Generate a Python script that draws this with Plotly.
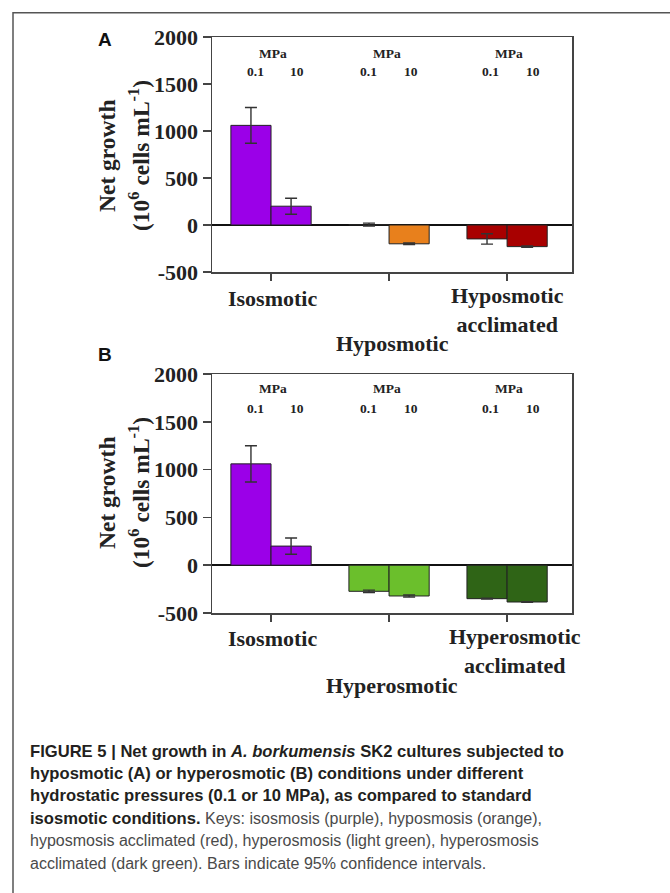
import plotly.graph_objects as go

W, H = 670, 893

# ---- data ----
pressures = ["0.1", "10"]
cats_a = ["Isosmotic", "Hyposmotic", "Hyposmotic acclimated"]
cats_b = ["Isosmotic", "Hyperosmotic", "Hyperosmotic acclimated"]

a_01 = [1060, 5, -148]
a_01_err = [190, 15, 55]
a_10 = [200, -200, -230]
a_10_err = [85, 8, 8]
colors_a = ["#9b00e8", "#e8801c", "#a80000"]

b_01 = [1060, -273, -350]
b_01_err = [190, 12, 5]
b_10 = [200, -322, -385]
b_10_err = [85, 10, 4]
colors_b = ["#9b00e8", "#6bbf2c", "#2f6416"]

yticks = [-500, 0, 500, 1000, 1500, 2000]

# the photographed page shows the figure slightly squeezed vertically;
# target pixel rows are mapped back through that squeeze
SQ, OFF = 0.972, 11.0


def px(p):
    return p / W


def py(p):
    return 1 - ((p - OFF) / SQ) / H


SERIF = "Liberation Serif"
SANS = "Liberation Sans"
AX = "#444444"

fig = go.Figure()


def add_panel(xa, ya, v01, e01, v10, e10, cols):
    for vals, errs, name, in [(v01, e01, "0.1 MPa"), (v10, e10, "10 MPa")]:
        fig.add_trace(go.Bar(
            x=[0, 1, 2], y=vals, name=name, xaxis=xa, yaxis=ya,
            marker=dict(color=cols, line=dict(color="#222222", width=1)),
            error_y=dict(type="data", array=errs, visible=True,
                         color="#333333", thickness=1.4, width=6),
            showlegend=False,
        ))


add_panel("x", "y", a_01, a_01_err, a_10, a_10_err, colors_a)
add_panel("x2", "y2", b_01, b_01_err, b_10, b_10_err, colors_b)

xdom = [px(212), px(572)]
common_x = dict(range=[-0.5, 2.55], domain=xdom, showline=True, linecolor=AX,
                linewidth=1.5, mirror=True, ticks="outside", ticklen=7,
                tickcolor=AX, tickwidth=1.5, tickvals=[0, 1, 2],
                showticklabels=False, showgrid=False, zeroline=False,
                fixedrange=True)
common_y = dict(range=[-500, 2000], showline=True, linecolor=AX,
                linewidth=1.5, mirror=True, ticks="outside", ticklen=8,
                tickcolor=AX, tickwidth=1.5, tickvals=yticks,
                ticktext=[str(t) for t in yticks],
                tickfont=dict(family=SERIF, size=22, color="#222222",
                              weight="bold"),
                showgrid=False, zeroline=True, zerolinecolor="#111111",
                zerolinewidth=1.5, fixedrange=True)

fig.update_layout(
    width=W, height=H,
    margin=dict(l=0, r=0, t=0, b=0),
    paper_bgcolor="white", plot_bgcolor="white",
    barmode="group", bargap=0.32, bargroupgap=0,
    xaxis=dict(common_x, anchor="y"),
    yaxis=dict(common_y, domain=[py(271), py(36)], anchor="x"),
    xaxis2=dict(common_x, anchor="y2"),
    yaxis2=dict(common_y, domain=[py(612), py(373)], anchor="x2"),
)

ann = []
lab_font = dict(family=SERIF, size=22, color="#222222", weight="bold")
ytitle_font = dict(family=SERIF, size=23.5, color="#222222", weight="bold")
small_font = dict(family=SERIF, size=13.5, color="#222222", weight="bold")


def A(**kw):
    d = dict(showarrow=False, xanchor="center", yanchor="middle")
    d.update(kw)
    ann.append(d)


MPA_X = [273, 387, 509]
P01_X = [255, 368, 490]
P10_X = [297, 411, 533]


def panel_text(cats, y_mpa, y_num, y_l1, y_l2, y_mid, y_center, letter,
               y_letter, x_third):
    for i in range(3):
        A(x=px(MPA_X[i]), y=py(y_mpa), xref="paper", yref="paper",
          text="MPa", font=small_font)
        A(x=px(P01_X[i]), y=py(y_num), xref="paper", yref="paper",
          text=pressures[0], font=small_font)
        A(x=px(P10_X[i]), y=py(y_num), xref="paper", yref="paper",
          text=pressures[1], font=small_font)
    A(x=px(272), y=py(y_l1), xref="paper", yref="paper", text=cats[0],
      font=lab_font)
    A(x=px(392), y=py(y_mid), xref="paper", yref="paper", text=cats[1],
      font=lab_font)
    w1, w2 = cats[2].split(" ")
    A(x=px(x_third), y=py((y_l1 + y_l2) / 2), xref="paper", yref="paper",
      text=w1 + "<br>" + w2, font=lab_font)
    A(x=px(107), y=py(y_center), xref="paper", yref="paper",
      text="Net growth", textangle=-90, font=ytitle_font)
    A(x=px(139), y=py(y_center), xref="paper", yref="paper",
      text="(10<sup>6</sup> cells mL<sup>-1</sup>)", textangle=-90,
      font=ytitle_font)
    A(x=px(105), y=py(y_letter), xref="paper", yref="paper",
      text="<b>" + letter + "</b>",
      font=dict(family=SANS, size=19, color="#111111"))


panel_text(cats_a, 52, 70, 297, 320, 342, 155, "A", 38, 508)
panel_text(cats_b, 387, 407, 637, 662, 684, 492, "B", 353, 515)

DK = "<span style='color:#231f20;font-size:16.6px'><b>{}</b></span>"
caption_lines = [
    DK.format("FIGURE 5 | Net growth in <i>A. borkumensis</i> SK2 cultures subjected to"),
    DK.format("hyposmotic (A) or hyperosmotic (B) conditions under different"),
    DK.format("hydrostatic pressures (0.1 or 10 MPa), as compared to standard"),
    DK.format("isosmotic conditions.") + " Keys: isosmosis (purple), hyposmosis (orange),",
    "hyposmosis acclimated (red), hyperosmosis (light green), hyperosmosis",
    "acclimated (dark green). Bars indicate 95% confidence intervals.",
]
for k, line in enumerate(caption_lines):
    A(x=px(28), y=py(750 + 22.4 * k), xref="paper", yref="paper",
      text=line, xanchor="left",
      font=dict(family=SANS, size=16, color="#4a4a4a"))

fig.update_layout(annotations=ann)

# outer frame of the figure box
fig.add_shape(type="rect", xref="paper", yref="paper",
              x0=px(13), x1=px(700), y0=-0.05, y1=1 - 0.8 / H,
              line=dict(color="#555555", width=1.5), fillcolor="rgba(0,0,0,0)")

fig.write_html(
    "out.html",
    config={"displayModeBar": False, "staticPlot": True},
    post_script=(
        "document.body.style.margin='0';"
        "document.documentElement.style.overflow='hidden';"
        "var gd=document.getElementById('{plot_id}');"
        "gd.style.position='absolute';gd.style.top='0px';gd.style.left='0px';"
    ),
)
